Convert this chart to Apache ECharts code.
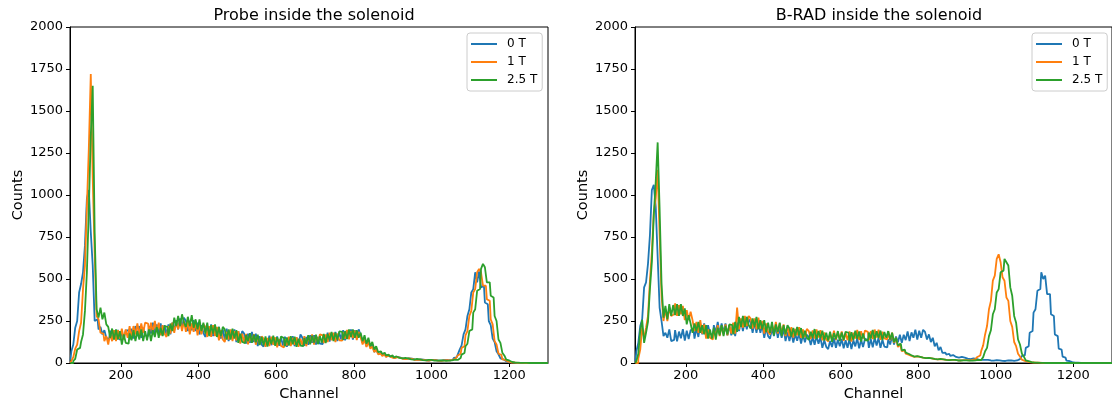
<!DOCTYPE html>
<html>
<head>
<meta charset="utf-8">
<script src="https://cdn.jsdelivr.net/npm/echarts@6/dist/echarts.min.js"></script>
<style>html,body{margin:0;padding:0;background:#fff}#c{width:1112px;height:407px}</style>
</head>
<body>
<div id="c"></div>
<script>
// Channel bins: 70, 75, ... 1300
const CH_START = 70, CH_STEP = 5, CH_COUNT = 247;
const channels = Array.from({length: CH_COUNT}, (_, i) => CH_START + CH_STEP * i);
const seriesNames = ['0 T', '1 T', '2.5 T'];
const titles = ['Probe inside the solenoid', 'B-RAD inside the solenoid'];
const xTicks = [200, 400, 600, 800, 1000, 1200];

// Probe inside the solenoid
const probe0T = [
15,70,110,210,250,420,470,540,700,980,
1030,780,580,250,260,200,215,170,195,150,
141,193,133,185,149,197,137,189,145,193,
195,140,205,145,220,160,220,150,210,165,
160,220,175,240,170,230,180,235,165,225,
165,230,170,240,195,255,200,265,210,270,
250,190,250,195,255,190,240,170,225,180,
155,215,170,230,160,215,160,215,145,200,
140,205,130,195,150,200,125,190,135,190,
175,115,175,120,185,125,175,100,160,110,
98,146,110,162,106,154,114,158,102,150,
104,156,96,148,112,160,100,152,108,170,
150,102,155,108,165,120,165,110,155,115,
113,161,130,180,128,178,140,185,130,180,
140,195,135,190,155,200,140,195,150,200,
165,120,150,100,135,95,110,65,85,55,
60,45,52,38,45,36,42,30,37,28,
32,26,30,24,28,22,26,20,24,19,
21,17,20,16,19,15,18,14,18,14,
17,14,17,14,18,15,20,18,30,34,
50,80,105,170,200,280,320,420,440,540,
480,545,450,460,360,350,250,225,145,125,
70,52,28,22,11,9,4,4,1,2,
1,1,1,1,1,0,1,0,1,0,
0,0,1,0,0,0,0];
const probe1T = [
0,12,35,85,110,190,240,440,580,930,
1280,1720,1100,650,280,260,180,175,130,160,
110,175,130,195,130,195,145,205,140,200,
150,220,145,220,170,235,165,235,180,240,
235,175,240,180,250,185,240,165,225,175,
155,220,175,240,180,245,200,255,190,250,
185,250,170,235,185,245,165,230,170,230,
215,155,220,155,225,160,215,135,195,140,
125,185,140,200,130,190,135,190,115,175,
121,173,111,163,124,172,109,159,111,158,
145,97,149,101,157,109,153,93,141,101,
93,141,105,157,101,149,109,153,97,145,
106,160,100,155,120,170,110,165,120,170,
165,118,170,125,180,135,180,125,175,135,
133,181,145,197,141,189,149,193,137,185,
155,110,140,95,125,85,100,65,80,52,
56,42,50,36,43,34,40,29,35,27,
31,25,29,23,27,21,25,19,23,18,
20,16,19,15,18,15,17,14,17,14,
16,13,16,14,17,15,20,19,28,30,
45,55,90,100,165,190,280,310,420,440,
540,560,540,460,460,380,370,260,230,130,
110,55,48,22,18,8,7,3,3,1,
1,1,1,1,0,1,0,0,1,0,
0,0,0,0,1,0,0];
const probe25T = [
0,0,12,25,80,90,125,170,310,540,
920,1350,1650,780,320,270,330,260,300,230,
215,150,205,140,200,140,190,110,170,120,
115,175,135,195,130,190,140,200,130,190,
135,200,130,195,155,215,150,210,160,220,
215,160,235,190,270,220,280,220,290,240,
215,275,220,285,210,260,200,260,190,240,
175,240,160,225,175,230,155,215,160,215,
200,140,200,140,205,145,195,120,175,125,
118,166,130,178,120,168,124,168,107,155,
106,158,98,150,114,162,102,154,110,158,
148,100,152,104,160,112,156,96,144,104,
100,148,115,165,112,162,122,168,112,160,
121,173,118,172,139,185,130,180,140,188,
185,137,190,142,200,155,200,150,195,150,
180,130,165,115,150,100,125,80,100,65,
70,55,60,45,50,38,45,33,39,30,
33,27,30,24,28,22,26,20,24,18,
21,17,20,16,19,15,18,14,17,14,
16,13,15,13,15,14,16,15,20,18,
28,30,50,60,100,115,190,200,300,320,
430,440,560,590,570,480,480,400,390,280,
250,140,120,60,45,20,15,6,5,2,
2,1,1,1,0,1,0,1,0,0,
0,0,0,0,0,0,0];

// B-RAD inside the solenoid
const brad0T = [
10,70,120,220,260,450,480,590,760,1030,
1060,930,630,330,250,160,180,150,200,130,
138,196,129,187,147,201,133,192,143,196,
200,145,210,155,230,170,235,165,225,175,
165,225,180,245,175,235,180,235,165,225,
165,235,160,240,190,250,190,255,200,260,
240,180,240,180,245,180,225,150,210,160,
145,205,160,220,150,205,150,205,130,185,
131,183,121,173,132,178,116,168,124,168,
155,107,155,109,162,114,154,90,136,96,
83,131,95,147,91,139,99,143,87,135,
91,143,83,135,99,147,87,139,95,143,
138,90,142,94,150,104,150,90,138,98,
93,141,110,162,110,158,124,168,120,168,
136,188,130,182,150,198,140,192,150,198,
185,140,170,125,150,100,120,75,95,60,
62,50,55,42,47,36,41,32,36,28,
32,26,29,23,27,21,24,19,22,18,
19,16,18,15,17,14,17,13,16,13,
15,12,15,12,16,13,17,15,23,22,
42,45,90,100,180,190,300,320,430,440,
540,500,520,410,410,290,280,170,160,85,
80,38,32,14,12,5,5,2,2,1,
1,1,1,0,1,0,0,1,0,0,
0,0,0,0,0,0,0];
const brad1T = [
0,0,25,80,210,150,210,280,490,660,
900,980,1150,760,400,250,320,250,330,280,
290,355,280,345,290,340,255,315,255,305,
255,190,245,180,255,175,230,145,200,150,
140,200,160,225,160,220,170,230,165,225,
175,240,175,330,200,265,210,280,220,280,
265,205,265,200,270,205,250,175,235,185,
170,230,185,245,175,235,180,230,160,215,
161,213,151,203,165,213,150,200,155,203,
190,142,194,146,200,152,195,135,181,141,
128,176,140,192,136,184,144,188,132,180,
136,188,128,180,146,197,137,189,145,193,
185,137,190,142,199,152,198,138,186,146,
140,190,135,180,120,150,95,115,70,75,
55,50,42,45,37,40,34,37,32,34,
29,31,26,28,23,25,21,23,19,21,
18,20,17,19,16,18,16,17,15,17,
15,17,16,19,18,23,26,36,45,72,
105,170,220,320,370,490,520,620,647,600,
510,490,390,370,250,215,125,100,55,38,
20,12,8,5,4,3,2,2,2,1,
1,1,1,0,1,0,0,1,0,0,
0,0,0,0,0,0,0,0,0,0,
0,0,0,0,0,0,0,0,0,0,
0,0,0,0,0,0,0];
const brad25T = [
0,12,55,190,257,120,180,245,440,600,
880,1080,1313,920,470,270,340,260,350,280,
345,285,350,280,350,280,325,230,285,235,
180,235,190,245,180,225,170,225,145,200,
145,210,140,210,165,225,160,220,170,230,
225,170,245,185,275,215,280,215,275,225,
205,265,215,275,200,255,200,255,185,240,
180,245,165,230,185,240,160,225,170,225,
205,157,209,161,215,165,208,145,192,151,
138,186,150,202,142,190,148,192,134,180,
134,186,126,178,142,190,130,182,138,186,
180,132,184,136,192,144,188,128,176,136,
133,181,145,197,141,189,149,193,137,185,
150,190,140,180,125,150,105,115,75,80,
62,55,46,48,38,41,34,37,32,34,
29,31,26,28,24,26,22,24,20,22,
18,20,17,19,16,18,15,17,15,16,
14,16,14,16,14,16,15,18,18,24,
35,70,90,160,195,290,320,420,440,540,
550,620,600,580,450,400,280,240,140,110,
55,38,16,11,5,4,2,2,1,1,
1,1,0,1,0,0,1,0,0,0,
0,0,0,0,0,0,0,0,0,0,
0,0,0,0,0,0,0,0,0,0,
0,0,0,0,0,0,0];

const colors = ['#1f77b4', '#ff7f0e', '#2ca02c'];
const FONT = 'DejaVu Sans';
const pairs = v => channels.map((c, i) => [c, v[i] === undefined ? 0 : v[i]]);

const grids = [
  {left: 70, top: 27, width: 478, height: 337},
  {left: 635, top: 27, width: 478, height: 337}
];

function xAxis(i) {
  return {
    type: 'value', gridIndex: i, min: 69, max: 1300,
    name: 'Channel', nameLocation: 'middle', nameGap: 24,
    nameTextStyle: {color: '#000', fontFamily: FONT, fontSize: 14.5},
    axisLine: {show: true, onZero: false, lineStyle: {color: '#000', width: 1}},
    axisTick: {show: true, length: 4, lineStyle: {color: '#000'}, customValues: xTicks},
    axisLabel: {color: '#000', fontFamily: FONT, fontSize: 13, margin: 6, customValues: xTicks, formatter: v => String(v)},
    splitLine: {show: false}
  };
}
function yAxis(i) {
  return {
    type: 'value', gridIndex: i, min: 0, max: 2000, interval: 250,
    name: 'Counts', nameLocation: 'middle', nameGap: 44,
    nameTextStyle: {color: '#000', fontFamily: FONT, fontSize: 14.5},
    axisLine: {show: true, lineStyle: {color: '#000', width: 1}},
    axisTick: {show: true, length: 4, lineStyle: {color: '#000'}},
    axisLabel: {color: '#000', fontFamily: FONT, fontSize: 13, margin: 7, formatter: v => String(v)},
    splitLine: {show: false}
  };
}
function legend(left) {
  return {
    orient: 'vertical', left: left, top: 33,
    data: seriesNames,
    icon: 'rect', itemWidth: 26, itemHeight: 2, itemGap: 4,
    padding: [4, 5, 4, 4],
    borderColor: '#ccc', borderWidth: 1, borderRadius: 3,
    backgroundColor: 'rgba(255,255,255,0.8)',
    textStyle: {color: '#000', fontFamily: FONT, fontSize: 12, lineHeight: 14, padding: [0, 0, 0, 5]},
    selectedMode: false
  };
}
const data = [[probe0T, probe1T, probe25T], [brad0T, brad1T, brad25T]];
const series = [];
data.forEach((grp, gi) => grp.forEach((vals, si) => {
  series.push({
    type: 'line', name: seriesNames[si], xAxisIndex: gi, yAxisIndex: gi,
    data: pairs(vals), step: 'middle', showSymbol: false, symbol: 'none',
    lineStyle: {color: colors[si], width: 1.8}, itemStyle: {color: colors[si]},
    z: 2 + si, silent: true
  });
}));

const chart = echarts.init(document.getElementById('c'), null, {renderer: 'canvas'});
chart.setOption({
  animation: false,
  backgroundColor: '#fff',
  title: [
    {text: titles[0], left: 309, top: 3, textAlign: 'center', textStyle: {color: '#000', fontFamily: FONT, fontSize: 16, fontWeight: 'normal'}},
    {text: titles[1], left: 874, top: 3, textAlign: 'center', textStyle: {color: '#000', fontFamily: FONT, fontSize: 16, fontWeight: 'normal'}}
  ],
  grid: grids.map(g => Object.assign({show: true, borderColor: '#000', borderWidth: 1, backgroundColor: 'transparent'}, g)),
  xAxis: [xAxis(0), xAxis(1)],
  yAxis: [yAxis(0), yAxis(1)],
  legend: [legend(467), legend(1032)],
  series: series
});
</script>
</body>
</html>
